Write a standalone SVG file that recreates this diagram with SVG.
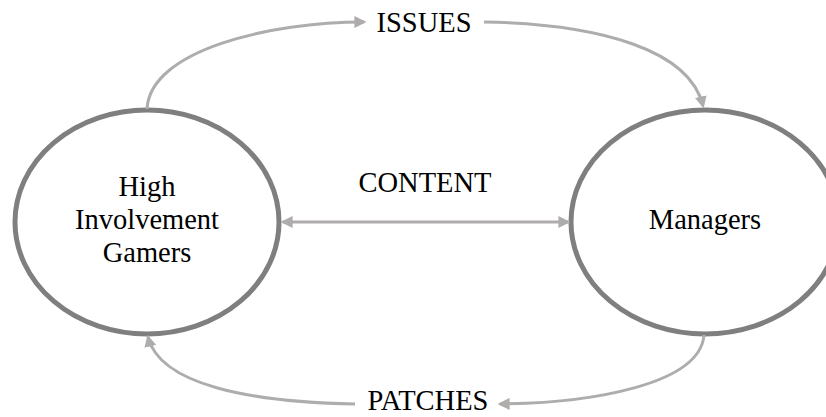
<svg xmlns="http://www.w3.org/2000/svg" width="826" height="417" viewBox="0 0 826 417">
<style>
.node{fill:none;stroke:#7f7f7f;stroke-width:5}
.conn{fill:none;stroke:#afacac;stroke-width:3}
text{font-family:"Liberation Serif","Times New Roman",serif;font-size:28.5px;fill:#000;text-anchor:middle}
</style>
<defs>
<marker id="ah" viewBox="0 0 10 10" refX="8" refY="5" markerWidth="4" markerHeight="4" orient="auto-start-reverse" markerUnits="strokeWidth">
<path d="M0,0 L10,5 L0,10 z" fill="#afacac"/>
</marker>
</defs>
<rect width="826" height="417" fill="#fff"/>
<g id="gamers">
<ellipse class="node" cx="147" cy="222" rx="132" ry="112"/>
<text x="147" y="196">High</text>
<text x="147" y="229">Involvement</text>
<text x="147" y="262">Gamers</text>
</g>
<g id="managers">
<ellipse class="node" cx="705" cy="222" rx="134" ry="112"/>
<text x="705" y="229">Managers</text>
</g>
<g id="connectors">
<path class="conn" d="M147,109 C150,50 270,22 364,22" marker-end="url(#ah)"/>
<path class="conn" d="M484,22 C600,24 690,50 703,106" marker-end="url(#ah)"/>
<path class="conn" d="M704,335 C700,385 590,403 500,404" marker-end="url(#ah)"/>
<path class="conn" d="M355,404 C250,402 160,385 148,337" marker-end="url(#ah)"/>
<path class="conn" d="M283,222 L568,222" marker-start="url(#ah)" marker-end="url(#ah)"/>
<text x="424" y="32">ISSUES</text>
<text x="425" y="192">CONTENT</text>
<text x="428" y="410">PATCHES</text>
</g>
</svg>
